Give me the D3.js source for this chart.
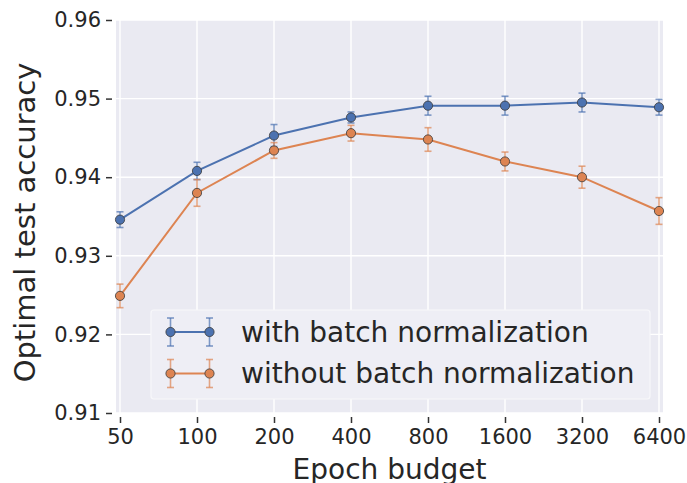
<!DOCTYPE html>
<html><head><meta charset="utf-8">
<script src="https://cdn.jsdelivr.net/npm/d3@7"></script>
<style>html,body{margin:0;padding:0;background:#fff;} svg{display:block;font-family:"DejaVu Sans",sans-serif;}</style>
</head><body>
<svg id="chart" width="687" height="483"></svg>
<script>
const epochs = [50, 100, 200, 400, 800, 1600, 3200, 6400];
const tickLabels = ["50", "100", "200", "400", "800", "1600", "3200", "6400"];
const yTicks = [0.91, 0.92, 0.93, 0.94, 0.95, 0.96];
const withBN = [0.9346, 0.9408, 0.9453, 0.9476, 0.9491, 0.9491, 0.9495, 0.9489];
const withBNErr = [0.0010, 0.0011, 0.0014, 0.0007, 0.0012, 0.0012, 0.0012, 0.0010];
const withoutBN = [0.9249, 0.9380, 0.9434, 0.9456, 0.9448, 0.9420, 0.9400, 0.9357];
const withoutBNErr = [0.0015, 0.0017, 0.0010, 0.0010, 0.0015, 0.0012, 0.0014, 0.0017];
const seriesNames = ["with batch normalization", "without batch normalization"];
const colors = ["#4C72B0", "#DD8452"];

const svg = d3.select("#chart");
const L = 116, R = 663, T = 20, B = 413;
const pad = Math.pow(2, 0.052);
const x = d3.scaleLog().base(2).domain([50 / pad, 6400 * pad]).range([L, R]);
const y = d3.scaleLinear().domain([0.91, 0.96]).range([B, T]);

svg.append("rect").attr("x", L).attr("y", T).attr("width", R - L).attr("height", B - T).attr("fill", "#EAEAF2");

// grid
svg.append("g").selectAll("line").data(epochs).join("line")
  .attr("x1", d => x(d)).attr("x2", d => x(d)).attr("y1", T).attr("y2", B)
  .attr("stroke", "#fff").attr("stroke-width", 1.4);
svg.append("g").selectAll("line").data(yTicks).join("line")
  .attr("y1", d => y(d)).attr("y2", d => y(d)).attr("x1", L).attr("x2", R)
  .attr("stroke", "#fff").attr("stroke-width", 1.4);

// axes
const xAxis = d3.axisBottom(x).tickValues(epochs).tickFormat((d, i) => tickLabels[i]).tickSize(6).tickPadding(6);
const gx = svg.append("g").attr("transform", `translate(0,${B + 4})`).call(xAxis);
gx.select(".domain").remove();
gx.selectAll(".tick line").attr("stroke", "#333").attr("stroke-width", 1.5);
gx.selectAll(".tick text").attr("font-size", 21).attr("fill", "#262626").attr("font-family", "DejaVu Sans");

const yAxis = d3.axisLeft(y).tickValues(yTicks).tickFormat(d3.format(".2f")).tickSize(6).tickPadding(5);
const gy = svg.append("g").attr("transform", `translate(${L - 4},0)`).call(yAxis);
gy.select(".domain").remove();
gy.selectAll(".tick line").attr("stroke", "#333").attr("stroke-width", 1.5);
gy.selectAll(".tick text").attr("font-size", 21).attr("fill", "#262626").attr("font-family", "DejaVu Sans");

// titles
svg.append("text").attr("x", (L + R) / 2).attr("y", 479).attr("text-anchor", "middle")
  .attr("font-size", 28).attr("fill", "#262626").text("Epoch budget");
svg.append("text").attr("transform", `translate(35,${(T + B) / 2 + 6}) rotate(-90)`).attr("text-anchor", "middle")
  .attr("font-size", 29).attr("fill", "#262626").text("Optimal test accuracy");

// series
const series = [
  {vals: withBN, errs: withBNErr, color: colors[0]},
  {vals: withoutBN, errs: withoutBNErr, color: colors[1]}
];
const line = d3.line().x(d => x(d[0])).y(d => y(d[1]));
series.forEach(s => {
  const g = svg.append("g");
  const pts = epochs.map((e, i) => [e, s.vals[i], s.errs[i]]);
  const eb = g.append("g").attr("stroke", s.color).attr("stroke-opacity", 0.7).attr("stroke-width", 1.6);
  eb.selectAll(".v").data(pts).join("line")
    .attr("x1", d => x(d[0])).attr("x2", d => x(d[0])).attr("y1", d => y(d[1] - d[2])).attr("y2", d => y(d[1] + d[2]));
  eb.selectAll(".t").data(pts).join("line")
    .attr("x1", d => x(d[0]) - 3.5).attr("x2", d => x(d[0]) + 3.5).attr("y1", d => y(d[1] + d[2])).attr("y2", d => y(d[1] + d[2]));
  eb.selectAll(".b").data(pts).join("line")
    .attr("x1", d => x(d[0]) - 3.5).attr("x2", d => x(d[0]) + 3.5).attr("y1", d => y(d[1] - d[2])).attr("y2", d => y(d[1] - d[2]));
  g.append("path").datum(pts).attr("d", line).attr("fill", "none").attr("stroke", s.color).attr("stroke-width", 2);
  g.selectAll("circle").data(pts).join("circle")
    .attr("cx", d => x(d[0])).attr("cy", d => y(d[1])).attr("r", 4.6)
    .attr("fill", s.color).attr("stroke", "#3a3a3a").attr("stroke-opacity", 0.8).attr("stroke-width", 1);
});

// legend
const lg = svg.append("g");
lg.append("rect").attr("x", 151).attr("y", 310).attr("width", 499).attr("height", 89).attr("rx", 3)
  .attr("fill", "#EEEEF5").attr("stroke", "#F7F7FA").attr("stroke-width", 1.2);
seriesNames.forEach((name, i) => {
  const cy = 332 + i * 41.5;
  const c = colors[i];
  const gg = lg.append("g");
  [170.5, 209.5].forEach(cx => {
    gg.append("line").attr("x1", cx).attr("x2", cx).attr("y1", cy - 14).attr("y2", cy + 14).attr("stroke", c).attr("stroke-opacity", 0.7).attr("stroke-width", 1.6);
    gg.append("line").attr("x1", cx - 3.5).attr("x2", cx + 3.5).attr("y1", cy - 14).attr("y2", cy - 14).attr("stroke", c).attr("stroke-opacity", 0.7).attr("stroke-width", 1.6);
    gg.append("line").attr("x1", cx - 3.5).attr("x2", cx + 3.5).attr("y1", cy + 14).attr("y2", cy + 14).attr("stroke", c).attr("stroke-opacity", 0.7).attr("stroke-width", 1.6);
  });
  gg.append("line").attr("x1", 170.5).attr("x2", 209.5).attr("y1", cy).attr("y2", cy).attr("stroke", c).attr("stroke-width", 2);
  [170.5, 209.5].forEach(cx => gg.append("circle").attr("cx", cx).attr("cy", cy).attr("r", 4.6).attr("fill", c).attr("stroke", "#3a3a3a").attr("stroke-opacity", 0.8).attr("stroke-width", 1));
  lg.append("text").attr("x", 241).attr("y", cy + 9.5).attr("font-size", 28).attr("fill", "#262626").text(name);
});
</script>
</body></html>
